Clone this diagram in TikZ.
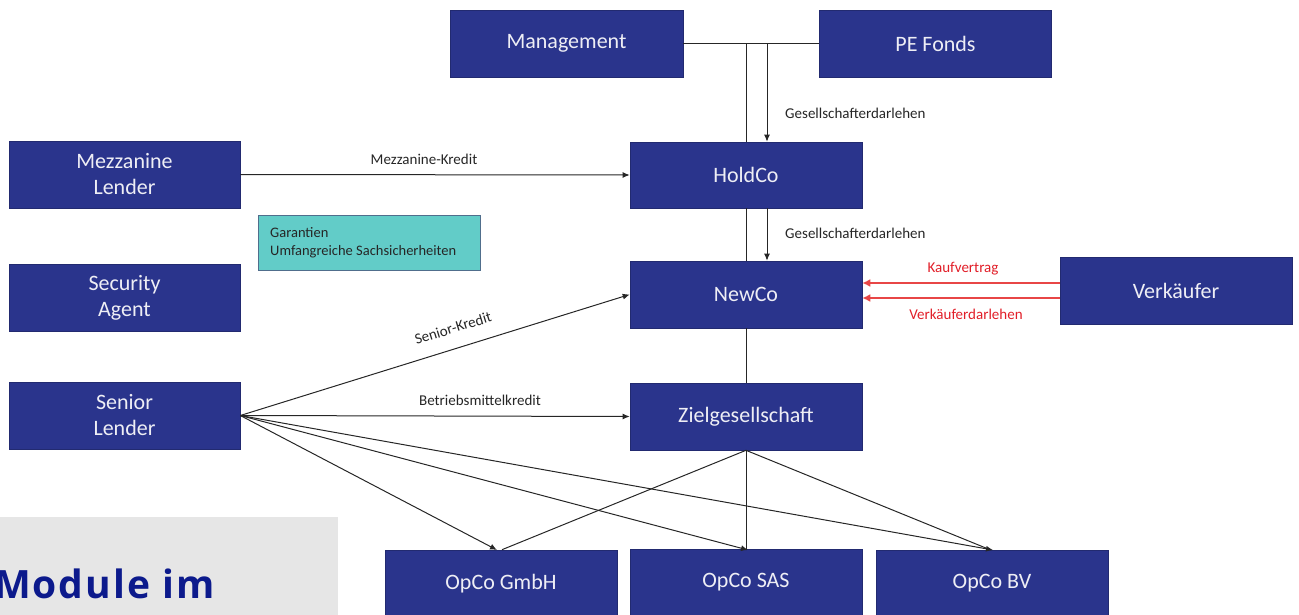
\documentclass[tikz,border=0pt]{standalone}
\usepackage{fontspec}
\setmainfont{Carlito}
\newfontfamily\titlefont[LetterSpace=5]{Open Sans}
\usetikzlibrary{arrows.meta,calc}
\definecolor{navy}{RGB}{42,52,140}
\definecolor{boxtext}{RGB}{238,238,245}
\definecolor{teal}{RGB}{98,204,200}
\definecolor{tealborder}{RGB}{80,110,140}
\definecolor{redline}{RGB}{232,70,70}
\definecolor{redtext}{RGB}{225,30,40}
\definecolor{titleblue}{RGB}{12,26,140}
\definecolor{panel}{RGB}{230,230,230}
\begin{document}
\begin{tikzpicture}[x=1pt,y=-1pt,
  entity/.style={draw=navy!80!black,line width=0.6pt,fill=navy,text=boxtext,
    minimum width=232pt,minimum height=67pt,inner sep=0pt,align=center,
    font=\fontsize{22}{26}\selectfont},
  lbl/.style={font=\fontsize{15}{18}\selectfont,text=black!85,inner sep=0pt},
  redlbl/.style={font=\fontsize{15}{18}\selectfont,text=redtext,inner sep=0pt},
  conn/.style={draw=black!85,line width=1pt},
  arr/.style={conn,-{Latex[length=7pt,width=6pt]}},
  redarr/.style={draw=redline,line width=2pt,-{Latex[length=8pt,width=8pt]}}
]
\useasboundingbox (0,0) rectangle (1299,615);

% bottom-left panel
\fill[panel] (0,517) rectangle (338,620);
\node[anchor=base west,inner sep=0pt,text=titleblue,font=\titlefont\bfseries\fontsize{39}{44}\selectfont] (title) at (-6,598) {Module im};

% boxes
\node[entity,minimum width=233pt] (mgmt) at (566.5,43.5) {Management};
\node[entity] (pe) at (935.5,43.5) {PE Fonds};
\node[entity,minimum height=66pt] (holdco) at (746,175) {HoldCo};
\node[entity] (newco) at (746,294.5) {NewCo};
\node[entity] (ziel) at (746,416.5) {Zielgesellschaft};
\node[entity] (verk) at (1176,290.5) {Verkäufer};
\node[entity,minimum width=231pt] (mezz) at (124.5,174.5) {Mezzanine\\Lender};
\node[entity,minimum width=231pt] (secag) at (124.5,297.5) {Security\\Agent};
\node[entity,minimum width=231pt] (senior) at (124.5,415.5) {Senior\\Lender};
\node[entity] (opco1) at (501,583.5) {OpCo GmbH};
\node[entity] (opco2) at (746,582.5) {OpCo SAS};
\node[entity] (opco3) at (992,583.5) {OpCo BV};

\node[draw=tealborder,line width=0.8pt,fill=teal,minimum width=222pt,minimum height=55pt,
  inner sep=0pt] (gar) at (369,242.5) {};
\node[anchor=west,align=left,font=\fontsize{14.5}{18}\selectfont,text=black!85,inner sep=0pt]
  (gartext) at (270,242.5) {Garantien\\Umfangreiche Sachsicherheiten};

% shareholder connections
\coordinate (j1) at (holdco.north |- mgmt.east);
\coordinate (j2) at ($(j1)+(21,0)$);
\draw[conn] (mgmt.east) -- (pe.west);
\draw[conn] (j1) -- (holdco.north);
\draw[arr] (j2) -- ($(holdco.north)+(21,0)$);
\node[lbl,anchor=west] (gd1) at (785,113) {Gesellschafterdarlehen};

\draw[conn] (holdco.south) -- (newco.north);
\draw[arr] ($(holdco.south)+(21,0)$) -- ($(newco.north)+(21,0)$);
\node[lbl,anchor=west] (gd2) at (785,233) {Gesellschafterdarlehen};

\draw[conn] (newco.south) -- (ziel.north);

% mezzanine
\draw[arr] (mezz.east) -- (holdco.west);
\node[lbl] (mk) at (424,159) {Mezzanine-Kredit};

% seller
\draw[redarr] (verk.west |- 0,283) -- (newco.east |- 0,283);
\draw[redarr] (verk.west |- 0,298) -- (newco.east |- 0,298);
\node[redlbl] (kv) at (963,269) {Kaufvertrag};
\node[redlbl] (vd) at (966,314) {Verkäuferdarlehen};

% senior lender
\coordinate (s0) at (senior.east);
\draw[arr] (s0) -- (newco.west);
\node[lbl,rotate=17] (sk) at (453,328) {Senior-Kredit};
\draw[arr] (s0) -- (ziel.west);
\node[lbl] (bk) at (480,400) {Betriebsmittelkredit};
\coordinate (t1) at (497,550);
\coordinate (t2) at (748,550);
\coordinate (t3) at (993,550);
\draw[arr] (s0) -- (t1);
\draw[arr] (s0) -- (t2);
\draw[arr] (s0) -- (t3);

% target to opcos
\draw[conn] (ziel.south) -- (opco1.north -| 502,0);
\draw[conn] (ziel.south) -- (opco2.north);
\draw[conn] (ziel.south) -- (opco3.north -| 990,0);
\end{tikzpicture}
\end{document}
